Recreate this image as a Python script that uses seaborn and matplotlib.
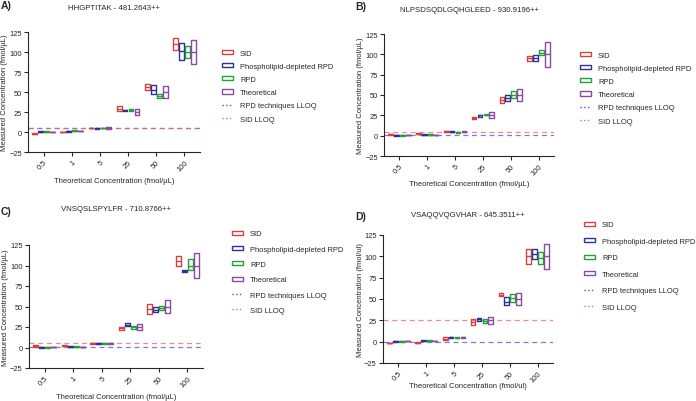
import matplotlib
matplotlib.use("Agg")
import matplotlib.pyplot as plt
from matplotlib.patches import Patch
from matplotlib.lines import Line2D
import pandas as pd
import seaborn as sns

sns.set_style("ticks")
plt.rcParams['font.family'] = ['Liberation Sans', 'DejaVu Sans']

concs = ["0.5", "1", "5", "25", "50", "100"]
series = ["SID", "Phospholipid-depleted RPD", "RPD", "Theoretical"]
colors = ["#d2433f", "#2f2f9c", "#23a03a", "#8a4aa0"]
lloq_rpd_color = "#5050c8"
lloq_sid_color = "#e06878"

# theoretical range (same in all panels)
theo_lo = [0.43, 0.85, 4.25, 21.25, 42.5, 85]
theo_mid = [0.5, 1, 5, 25, 50, 100]
theo_hi = [0.58, 1.15, 5.75, 28.75, 57.5, 115]

# panel A: HHGPTITAK  (min, mean, max)
a_sid = [(-3, -2, -1), (-0.5, 0, 0.5), (4.5, 5, 5.5), (26, 29, 32.5), (52.5, 56, 59.5), (102, 110, 118)]
a_pd = [(0, 0.5, 1), (0, 1, 1.5), (4, 4.5, 5), (26.5, 27, 27.5), (47, 53, 58.5), (90, 101, 111)]
a_rpd = [(0, 0.5, 1), (1, 1.5, 2), (4.5, 5, 5.5), (26, 27, 28.5), (43, 45.5, 48), (93, 100, 107)]
a_lloq = (5, 5)  # (RPD techniques, SID)

# panel B: NLPSDSQDLGQHGLEED
b_sid = [(1, 1.5, 2), (1.5, 2.5, 3.5), (5, 5.5, 6), (21, 22, 23.5), (40, 44, 47), (92, 95, 97.5)]
b_pd = [(0, 0.5, 1), (0.5, 1, 1.5), (4.5, 5, 5.5), (23.5, 25, 26), (42.5, 46, 49.5), (92, 96, 99)]
b_rpd = [(0, 0.5, 1), (0.5, 1, 1.5), (3.5, 4, 4.5), (25, 26, 27), (46, 50, 54.5), (99, 102, 105)]
b_lloq = (1, 5)

# panel C: VNSQSLSPYLFR
c_sid = [(1, 2, 3), (1.5, 2, 2.5), (4.5, 5, 5.5), (21.5, 23.5, 25.5), (41, 47, 52.5), (99, 105, 112)]
c_pd = [(0, 0.5, 1), (0.5, 1, 1.5), (4.5, 5, 5.5), (26.5, 28, 29.5), (43.5, 46, 49.5), (92, 93, 94)]
c_rpd = [(0, 0.5, 1), (0.5, 1, 1.5), (4.5, 5, 5.5), (23, 24.5, 26), (45.5, 48, 50.5), (94.5, 100, 108)]
c_lloq = (1, 6)

# panel D: VSAQQVQGVHAR
d_sid = [(-2, -1.5, -1), (-1.5, -1, -0.5), (2, 3.5, 5.5), (19.5, 23.5, 26.5), (53.5, 55, 56.5), (91, 100, 109)]
d_pd = [(0, 0.5, 1), (0.5, 1, 1.5), (4, 5, 6), (24, 26, 27.5), (42.5, 47, 52), (96.5, 103, 109)]
d_rpd = [(0, 0.5, 1), (0.5, 1, 1.5), (4, 4.5, 5), (22, 24, 26), (46, 51, 56), (91, 98, 105)]
d_lloq = (0, 25)

W, H = 696, 402

# layout in pixels: axes (left, top, right, bottom), title y, xlabel offset,
# letter position, legend (left, top), legend row spacing
panels = [
    ("A)", "HHGPTITAK - 481.2643++", a_sid, a_pd, a_rpd, a_lloq, "fmol/µL",
     (28, 33, 200, 153), 9, 29, (1, 6), (222, 50.5), 0.83),
    ("B)", "NLPSDSQDLGQHGLEED - 930.9196++", b_sid, b_pd, b_rpd, b_lloq, "fmol/µL",
     (384, 35, 554, 157), 10, 28, (355, 7), (580, 52.5), 0.83),
    ("C)", "VNSQSLSPYLFR - 710.8766++", c_sid, c_pd, c_rpd, c_lloq, "fmol/µL",
     (29, 246, 203, 369), 210, 29, (1, 212), (232, 231.5), 1.1),
    ("D)", "VSAQQVQGVHAR - 645.3511++", d_sid, d_pd, d_rpd, d_lloq, "fmol/ul",
     (383, 236, 553, 364), 216, 23, (355, 217), (584, 222.5), 1.26),
]

fig = plt.figure(figsize=(W / 100, H / 100), dpi=100)
fs = 5.4

for (letter, title, sid, pd_, rpd, lloq, unit, box, title_y, xl_off,
     letter_xy, leg_xy, lspace) in panels:
    l, t, r, b = box
    ax = fig.add_axes([l / W, 1 - b / H, (r - l) / W, (b - t) / H])
    rows = []
    theo = list(zip(theo_lo, theo_mid, theo_hi))
    for name, vals in zip(series, [sid, pd_, rpd, theo]):
        for c, (lo, mid, hi) in zip(concs, vals):
            for v in (lo, lo, mid, hi, hi):
                rows.append({"conc": c, "val": v, "series": name})
    df = pd.DataFrame(rows)
    sns.boxplot(data=df, x="conc", y="val", hue="series", order=concs,
                hue_order=series, palette=colors, fill=False, whis=0,
                showcaps=False, showfliers=False, width=0.85, gap=0.2,
                linewidth=1, legend=False, ax=ax)
    ax.axhline(lloq[0], color=lloq_rpd_color, ls=(0, (4, 3)), lw=0.9, alpha=0.75, zorder=0)
    ax.axhline(lloq[1], color=lloq_sid_color, ls=(0, (4, 3)), lw=0.9, alpha=0.75, zorder=0)
    ax.set_ylim(-25, 125)
    ax.set_yticks([-25, 0, 25, 50, 75, 100, 125])
    ax.set_xlim(-0.55, 5.55)
    ax.set_xticks(range(len(concs)))
    ax.set_xticklabels(concs, rotation=45, ha="right", rotation_mode="anchor")
    ax.tick_params(labelsize=fs, length=3, width=0.8, pad=1.5)
    for s in ["left", "bottom"]:
        ax.spines[s].set_linewidth(0.8)
    sns.despine(ax=ax)
    ax.set_xlabel(f"Theoretical Concentration ({unit})", fontsize=fs + 0.1)
    ax.set_ylabel(f"Measured Concentration ({unit})", fontsize=fs + 0.1)
    ax.xaxis.set_label_coords(0.5, -xl_off / (b - t))
    ax.xaxis.label.set_va("center")
    ax.yaxis.set_label_coords(-23 / (r - l), 0.5)
    ax.yaxis.label.set_va("center")
    fig.text((l + r) / 2 / W, 1 - title_y / H, title, fontsize=fs + 0.2,
             ha="center", va="center")
    fig.text(letter_xy[0] / W, 1 - letter_xy[1] / H, letter, fontsize=7.5,
             fontweight="bold", va="center", ha="left")

    handles = [Patch(facecolor="white", edgecolor=c, lw=1) for c in colors]
    handles += [Line2D([], [], color=lloq_rpd_color, ls=":", lw=1),
                Line2D([], [], color=lloq_sid_color, ls=":", lw=1)]
    labels = series + ["RPD techniques LLOQ", "SID LLOQ"]
    fig.legend(handles, labels, loc="upper left",
               bbox_to_anchor=(leg_xy[0] / W, 1 - leg_xy[1] / H),
               frameon=False, fontsize=fs, labelspacing=lspace,
               handlelength=1.5, handleheight=0.45, handletextpad=0.9,
               borderpad=0, borderaxespad=0)

fig.savefig("out.png", dpi=100)
